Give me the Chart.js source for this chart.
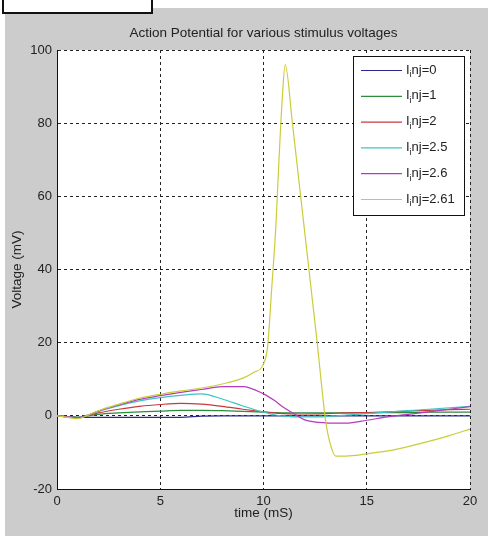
<!DOCTYPE html>
<html lang="en">
<head>
  <meta charset="UTF-8">
  <title>Action Potential for various stimulus voltages</title>
  <script src="https://cdn.jsdelivr.net/npm/chart.js"></script>
  <style>
    html, body { margin: 0; padding: 0; background: #fff; }
    body { width: 488px; height: 536px; position: relative; overflow: hidden; }
    .panel { position: absolute; left: 5px; top: 8px; right: 0; bottom: 0; background: #cccccc; }
    .box { position: absolute; left: 2px; top: -3px; width: 147px; height: 13px; border: 2px solid #111; background: #fff; }
    canvas { position: absolute; left: 0; top: 0; }
  </style>
</head>
<body>
  <div class="panel"></div>
  <div class="box"></div>
  <canvas id="apChart" width="488" height="536"></canvas>

<script>
// time axis (mS) shared by the smaller responses
const timeBase = [0, 0.5, 1, 1.5, 2, 3, 4, 5, 6, 7, 8, 9, 10, 10.5, 11, 11.5, 12, 13, 14, 15, 16, 17, 18, 19, 20];
// finer time axis for the spike
const timeSpike = [0, 0.5, 1, 1.5, 2, 3, 4, 5, 6, 7, 8, 9, 9.5, 10, 10.2, 10.4, 10.6, 10.75, 10.9, 11.05,
  11.4, 11.6, 11.8, 12.0, 12.2, 12.4, 12.6, 12.8, 13.0, 13.2, 13.5, 14, 15, 16, 17, 18, 19, 20];

const vInj0   = [0, -0.2, -0.4, -0.4, -0.4, -0.4, -0.4, -0.4, -0.4, -0.1, 0, 0, 0, 0, 0, 0, 0, 0, 0, 0, 0, 0, 0, 0, 0];
const vInj1   = [0, -0.2, -0.4, 0, 0.4, 0.8, 1.1, 1.3, 1.5, 1.5, 1.4, 1.2, 1.0, 0.9, 0.8, 0.8, 0.8, 0.8, 0.8, 0.8, 0.9, 0.9, 1.0, 1.0, 1.0];
const vInj2   = [0, -0.3, -0.5, 0.1, 0.8, 1.8, 2.6, 3.1, 3.4, 3.2, 2.6, 1.8, 1.1, 0.8, 0.6, 0.5, 0.5, 0.6, 0.8, 0.9, 1.1, 1.3, 1.5, 1.7, 1.8];
const vInj25  = [0, -0.3, -0.5, 0.2, 1.2, 2.8, 4.1, 5.0, 5.6, 6.0, 4.6, 2.7, 1.0, 0.3, -0.1, -0.3, -0.3, -0.2, 0.2, 0.6, 1.0, 1.4, 1.8, 2.2, 2.6];
const vInj26  = [0, -0.3, -0.5, 0.2, 1.3, 3.0, 4.5, 5.5, 6.4, 7.2, 8.0, 8.0, 6.0, 4.3, 2.2, 0.5, -1.1, -1.9, -2.0, -1.2, -0.3, 0.4, 1.1, 1.8, 2.5];
const vInj261 = [0, -0.4, -0.8, 0.2, 1.4, 3.2, 4.8, 5.9, 6.8, 7.6, 8.7, 10.3, 11.8, 14.2, 19, 35, 52, 70, 86, 96,
  80, 70, 60, 50, 40, 30, 20, 9, -1, -7, -11, -11, -10.4, -9.6, -8.4, -7, -5.4, -3.6];

// legend text: "I" + subscript "i" + rest
const seriesValuesText = ['0', '1', '2', '2.5', '2.6', '2.61'];
const seriesLabels = seriesValuesText.map(s => 'Iinj=' + s);
const seriesColors = ['#2a2a8c', '#2e8b3e', '#c83a3a', '#3cc4c4', '#b43cbc', '#cccc3a'];
const seriesValues = [vInj0, vInj1, vInj2, vInj25, vInj26, vInj261];
const seriesTimes  = [timeBase, timeBase, timeBase, timeBase, timeBase, timeSpike];

const xTicks = [0, 5, 10, 15, 20];
const yTicks = [-20, 0, 20, 40, 60, 80, 100];

const FONT = 'Arial, "Liberation Sans", sans-serif';

const datasets = seriesValues.map((vals, i) => ({
  label: seriesLabels[i],
  data: vals.map((v, k) => ({ x: seriesTimes[i][k], y: v })),
  borderColor: seriesColors[i],
  borderWidth: 1.2,
  pointRadius: 0,
  fill: false,
  cubicInterpolationMode: 'monotone',
  order: seriesValues.length - i
}));

// white axes background + title + inline legend
const matlabLook = {
  id: 'matlabLook',
  beforeDraw(chart) {
    const { ctx, chartArea: a } = chart;
    ctx.save();
    ctx.fillStyle = '#fff';
    ctx.fillRect(a.left, a.top, a.right - a.left, a.bottom - a.top);
    ctx.restore();
  },
  afterDraw(chart) {
    const { ctx, chartArea: a } = chart;
    ctx.save();
    ctx.fillStyle = '#222';
    ctx.font = '13.5px ' + FONT;
    ctx.textAlign = 'center';
    ctx.textBaseline = 'middle';
    ctx.fillText('Action Potential for various stimulus voltages', (a.left + a.right) / 2, 33);

    // legend box
    const lx = 353, ly = 56, lw = 111, lh = 159;
    ctx.fillStyle = '#fff';
    ctx.fillRect(lx, ly, lw, lh);
    ctx.strokeStyle = '#111';
    ctx.lineWidth = 1;
    ctx.strokeRect(lx + 0.5, ly + 0.5, lw, lh);
    ctx.textAlign = 'left';
    chart.data.datasets.forEach((ds, i) => {
      const y = 70 + i * 25.8;
      ctx.strokeStyle = ds.borderColor;
      ctx.lineWidth = 1.2;
      ctx.beginPath();
      ctx.moveTo(361, y + 0.5);
      ctx.lineTo(402, y + 0.5);
      ctx.stroke();
      ctx.fillStyle = '#222';
      let x = 406;
      ctx.font = '13px ' + FONT;
      ctx.fillText('I', x, y);
      x += ctx.measureText('I').width;
      ctx.font = '9px ' + FONT;
      ctx.fillText('i', x, y + 5);
      x += ctx.measureText('i').width;
      ctx.font = '13px ' + FONT;
      ctx.fillText('nj=' + seriesValuesText[i], x, y);
    });
    ctx.restore();
  }
};

new Chart(document.getElementById('apChart'), {
  type: 'line',
  data: { datasets },
  options: {
    responsive: false,
    animation: false,
    layout: { padding: { top: 50, right: 18, left: 0, bottom: 0 } },
    plugins: {
      legend: { display: false },
      title: { display: false },
      tooltip: { enabled: false }
    },
    scales: {
      x: {
        type: 'linear',
        min: 0,
        max: 20,
        afterFit(s) { s.height = 47; },
        afterBuildTicks(s) { s.ticks = xTicks.map(v => ({ value: v })); },
        ticks: { color: '#222', font: { family: FONT, size: 13 }, padding: 5 },
        grid: { color: '#222', lineWidth: 1, drawTicks: false },
        border: { display: true, color: '#111', width: 1, dash: [3, 3] },
        title: { display: true, text: 'time (mS)', color: '#222', font: { family: FONT, size: 13.5 }, padding: { top: 15, bottom: 15 } }
      },
      y: {
        min: -20,
        max: 100,
        afterFit(s) { s.width = 57; },
        afterBuildTicks(s) { s.ticks = yTicks.map(v => ({ value: v })); },
        ticks: { color: '#222', font: { family: FONT, size: 13 }, padding: 5 },
        grid: { color: '#222', lineWidth: 1, drawTicks: false },
        border: { display: true, color: '#111', width: 1, dash: [3, 3] },
        title: { display: true, text: 'Voltage (mV)', color: '#222', font: { family: FONT, size: 13.5 }, padding: { top: 9, bottom: 9 } }
      }
    }
  },
  plugins: [matlabLook]
});
</script>
</body>
</html>
